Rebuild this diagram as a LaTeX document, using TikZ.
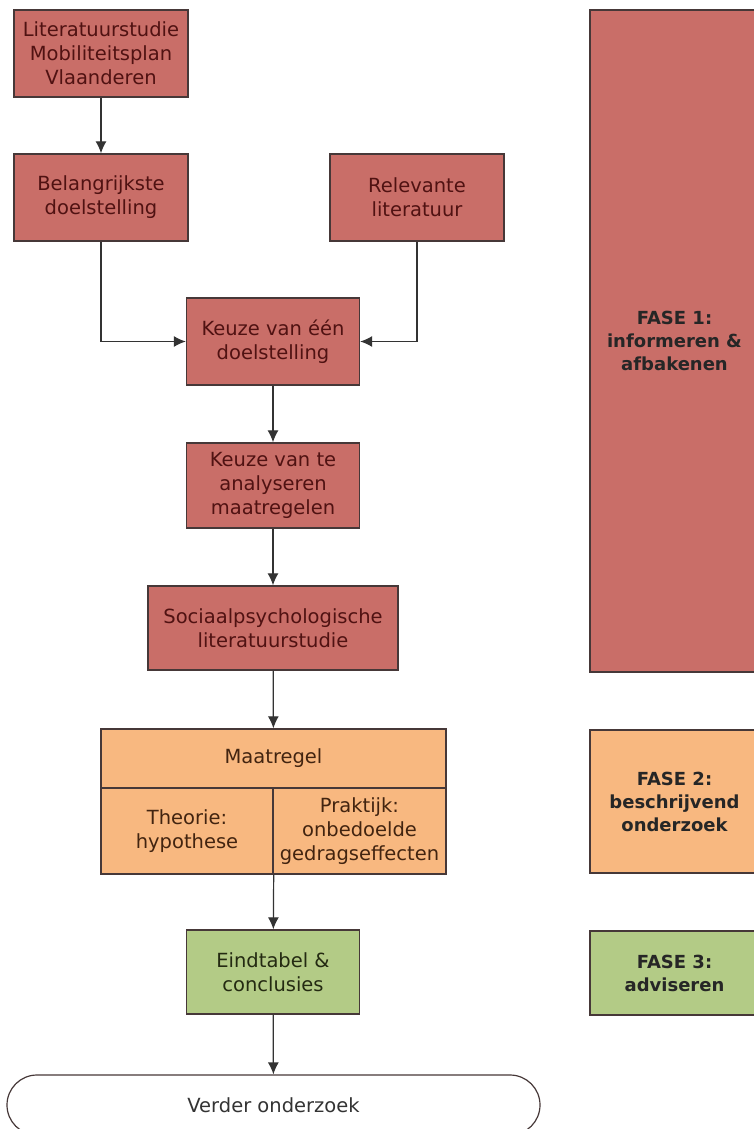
\documentclass[tikz,border=0pt]{standalone}
\usepackage{fontspec}
\setmainfont{DejaVu Sans}
\usepackage{tikz}
\usetikzlibrary{arrows.meta,positioning}
\definecolor{rood}{RGB}{201,110,104}
\definecolor{oranje}{RGB}{248,184,128}
\definecolor{groen}{RGB}{179,203,134}
\definecolor{rand}{RGB}{70,56,56}
\definecolor{roodtekst}{RGB}{80,18,18}
\definecolor{oranjetekst}{RGB}{66,36,16}
\definecolor{groentekst}{RGB}{36,42,18}

\begin{document}
\begin{tikzpicture}[x=1pt, y=-1pt,
    stap/.style={rectangle, draw=rand, line width=1.4pt, fill=rood, text=roodtekst, align=center, inner sep=0pt, minimum width=174pt, minimum height=87pt, font=\fontsize{19.5}{24}\selectfont},
    maatcel/.style={stap, fill=oranje, text=oranjetekst},
    eindstap/.style={stap, fill=groen, text=groentekst},
    fase/.style={rectangle, draw=rand, line width=1.4pt, align=center, inner sep=0pt, minimum width=169pt, text=black!85, font=\fontsize{18}{23}\selectfont\bfseries},
    >={Latex[length=12pt,width=11pt]}, line width=1.2pt, draw=black!80
]
    \useasboundingbox (0,0) rectangle (753,1129);

    % Fase 1
    \node[stap] (lit) at (101,53.5) {Literatuurstudie\\Mobiliteitsplan\\Vlaanderen};
    \node[stap] (bel) at (101,197.5) {Belangrijkste\\doelstelling};
    \node[stap] (rel) at (417,197.5) {Relevante\\literatuur};
    \node[stap, minimum width=173pt] (een) at (273,341.5) {Keuze van één\\doelstelling};
    \node[stap, minimum width=173pt, minimum height=85pt] (te) at (273,485.5) {Keuze van te\\analyseren\\maatregelen};
    \node[stap, minimum width=250pt, minimum height=84pt] (soc) at (273,628) {Sociaalpsychologische\\literatuurstudie};

    % Fase 2
    \node[maatcel, minimum width=345pt, minimum height=59pt] (maat) at (273.5,758.5) {Maatregel};
    \node[maatcel, minimum width=172pt, minimum height=86pt] (theorie) at (187,831) {Theorie:\\hypothese};
    \node[maatcel, minimum width=173pt, minimum height=86pt] (praktijk) at (359.5,831) {Praktijk:\\onbedoelde\\gedragseffecten};

    % Fase 3
    \node[eindstap, minimum width=173pt, minimum height=84pt] (eind) at (273,972) {Eindtabel \&\\conclusies};
    \node[rectangle, rounded corners=30pt, draw=rand, line width=1.2pt, minimum width=533pt, minimum height=60pt, font=\fontsize{19.5}{24}\selectfont, text=black!80] (verder) at (273.5,1105) {Verder onderzoek};

    % fasen
    \node[fase, fill=rood, minimum height=662pt] (f1) at (674.5,341) {FASE 1:\\informeren \&\\afbakenen};
    \node[fase, fill=oranje, minimum height=143pt] (f2) at (674.5,801.5) {FASE 2:\\beschrijvend\\onderzoek};
    \node[fase, fill=groen, minimum height=84pt] (f3) at (674.5,973) {FASE 3:\\adviseren};

    \draw[->] (lit) -- (bel);
    \draw[->] (bel) |- (een);
    \draw[->] (rel) |- (een);
    \draw[->] (een) -- (te);
    \draw[->] (te) -- (soc);
    \draw[->] (soc) -- (maat);
    \draw[->] (theorie.south east) -- (eind);
    \draw[->] (eind) -- (verder);
\end{tikzpicture}
\end{document}
